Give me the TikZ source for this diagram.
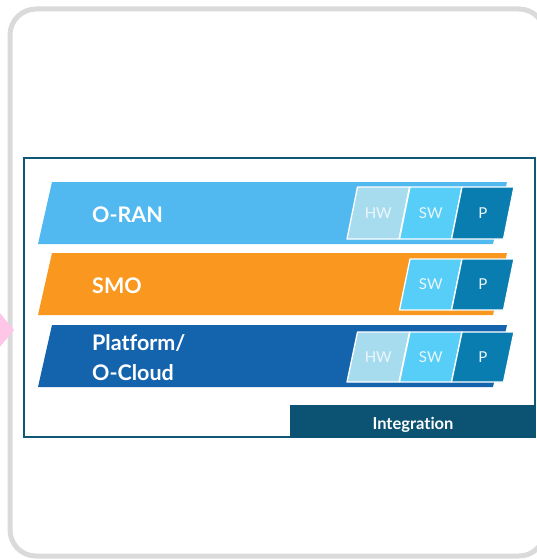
\documentclass[tikz,border=0pt]{standalone}
\usepackage{fontspec}
\setmainfont{Lato}[Ligatures=NoCommon]
\definecolor{bordergray}{HTML}{DADADA}
\definecolor{pinkarrow}{HTML}{FFC6E8}
\definecolor{framecol}{HTML}{0E5876}
\definecolor{integcol}{HTML}{0B5273}
\definecolor{orancol}{HTML}{52B9F0}
\definecolor{smocol}{HTML}{F9971E}
\definecolor{platcol}{HTML}{1463AD}
\definecolor{hwcol}{HTML}{A6DCEE}
\definecolor{swcol}{HTML}{56CEF8}
\definecolor{pcol}{HTML}{0A7DB0}
\definecolor{chiptext}{HTML}{EEF7FB}
\tikzset{
  bandshape/.style={fill=#1},
  chipshape/.style={fill=#1, draw=white, line width=1.3pt, line join=round},
  bandlabel/.style={text=white, font=\fontsize{21.5}{25}\selectfont\bfseries, anchor=base west, inner sep=0pt},
  chiplabel/.style={text=chiptext, font=\fontsize{15}{17}\selectfont, inner sep=0pt},
  integlabel/.style={text=white, font=\fontsize{16.5}{19}\selectfont\bfseries, anchor=base, inner sep=0pt},
}
\newcommand\mychip[6]{%
  \path[chipshape=#4] (#1,#3) -- ({#1+10.5},#2) -- ({#1+62.5},#2) -- ({#1+52},#3) -- cycle;
  \node[chiplabel] (#6) at ({#1+31.25},{(#2+#3)/2}) {#5};
}
\begin{document}
\begin{tikzpicture}[x=1pt,y=-1pt]
\useasboundingbox (0,0) rectangle (536,559);
% outer rounded border
\draw[bordergray, line width=5pt, rounded corners=26pt] (10,9) rectangle (545,556);
% pink arrow tip
\fill[pinkarrow] (-1,312) -- (14,330) -- (-1,348) -- cycle;
% inner frame
\draw[framecol, line width=2pt] (23.5,157.5) rectangle (535,436.5);
% bands
\fill[bandshape=orancol] (38,244) -- (52,182) -- (507,182) -- (493,244) -- cycle;
\fill[bandshape=smocol] (38,315) -- (52,253) -- (507,253) -- (493,315) -- cycle;
\fill[bandshape=platcol] (38,387) -- (52,325) -- (507,325) -- (493,387) -- cycle;
\node[bandlabel] (oran) at (92,222) {O-RAN};
\node[bandlabel] (smo) at (92,293) {SMO};
\node[bandlabel] (plat1) at (92,350) {Platform/};
\node[bandlabel] (plat2) at (92,380) {O-Cloud};
% chips
\mychip{347}{187}{239}{hwcol}{HW}{oranhw}
\mychip{399.5}{187}{239}{swcol}{SW}{oransw}
\mychip{451.5}{187}{239}{pcol}{P}{oranp}
\mychip{399.5}{259}{310}{swcol}{SW}{smosw}
\mychip{451.5}{259}{310}{pcol}{P}{smop}
\mychip{347}{332}{382}{hwcol}{HW}{plathw}
\mychip{399.5}{332}{382}{swcol}{SW}{platsw}
\mychip{451.5}{332}{382}{pcol}{P}{platp}
% integration bar
\fill[integcol] (290,405) rectangle (536,438);
\node[integlabel] (integ) at (413,429) {Integration};
\end{tikzpicture}
\end{document}
